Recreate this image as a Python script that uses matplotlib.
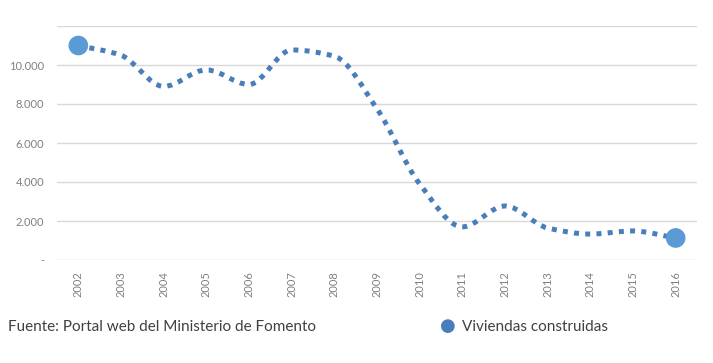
import numpy as np
import matplotlib
matplotlib.use("Agg")
import matplotlib.pyplot as plt
from matplotlib.path import Path
from matplotlib.patches import PathPatch

years = ['2002', '2003', '2004', '2005', '2006', '2007', '2008', '2009',
         '2010', '2011', '2012', '2013', '2014', '2015', '2016']
viviendas = [11000, 10500, 8900, 9750, 9000, 10770, 10450, 7750,
             3900, 1700, 2770, 1640, 1330, 1490, 1130]
y_ticks = [0, 2000, 4000, 6000, 8000, 10000, 12000]
y_labels = ['-', '2.000', '4.000', '6.000', '8.000', '10.000', '']

plt.rcParams['font.family'] = ['Lato', 'DejaVu Sans']

line_col = '#4a7ebb'
end_col = '#5b9bd5'
grid_col = '#d9d9d9'
txt_col = '#808080'

fig = plt.figure(figsize=(7.13, 3.63), dpi=100)
ax = fig.add_axes([57 / 713, 1 - 260 / 363, 640 / 713, 234 / 363])

x = np.arange(len(years))
y = np.array(viviendas, dtype=float)

# monotone cubic (Fritsch-Carlson) drawn as bezier segments
d = np.diff(y)
m = np.zeros(len(y))
for i in range(1, len(y) - 1):
    if d[i - 1] * d[i] > 0:
        m[i] = 2 / (1 / d[i - 1] + 1 / d[i])
m[0] = d[0]
m[-1] = d[-1]

verts = [(x[0], y[0])]
codes = [Path.MOVETO]
for i in range(len(x) - 1):
    verts += [(x[i] + 1 / 3, y[i] + m[i] / 3),
              (x[i + 1] - 1 / 3, y[i + 1] - m[i + 1] / 3),
              (x[i + 1], y[i + 1])]
    codes += [Path.CURVE4] * 3
patch = PathPatch(Path(verts, codes), facecolor='none', edgecolor=line_col,
                  lw=3.6, linestyle=(0, (1, 1.25)), capstyle='butt', zorder=3)
ax.add_patch(patch)

ax.scatter([x[0], x[-1]], [y[0], y[-1]], s=200, color=end_col, zorder=4,
           edgecolors='none')

ax.set_xlim(-0.5, len(years) - 0.5)
ax.set_ylim(0, 12000)
ax.set_yticks(y_ticks)
ax.set_yticklabels(y_labels)
ax.set_xticks(x)
ax.set_xticklabels(years, rotation=90)
ax.grid(axis='y', color=grid_col, lw=1)
ax.set_axisbelow(True)
for s in ax.spines.values():
    s.set_visible(False)
ax.tick_params(axis='both', length=0, colors=txt_col, labelsize=8)
ax.tick_params(axis='y', pad=9)
ax.tick_params(axis='x', pad=8)

fig.text(8 / 713, 1 - 327 / 363, 'Fuente: Portal web del Ministerio de Fomento',
         fontsize=11, color='#404040', va='center')
fig.text(448 / 713, 1 - 326 / 363, '\u25CF', fontsize=13, color=line_col,
         va='center', ha='center', family='DejaVu Sans')
fig.text(462 / 713, 1 - 327 / 363, 'Viviendas construidas', fontsize=11,
         color='#404040', va='center')

fig.savefig('out.png', dpi=100)
